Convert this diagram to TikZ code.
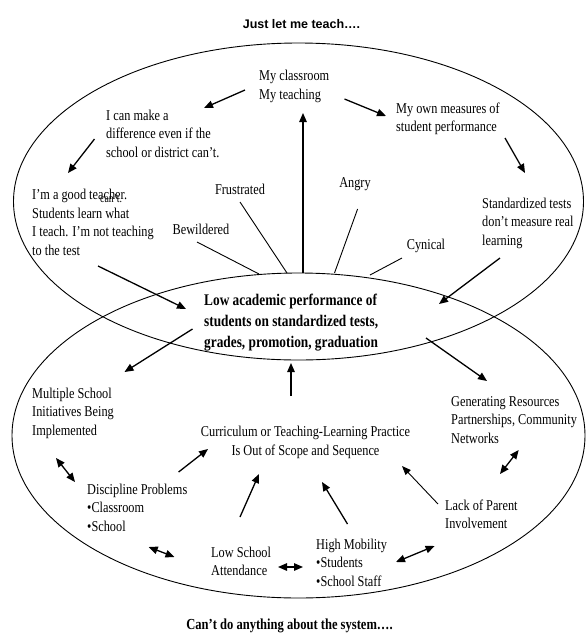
\documentclass[tikz,border=0pt]{standalone}
\usepackage{fontspec}
\setmainfont{Liberation Serif}[FakeStretch=0.82]
\newfontfamily\titlefont{Liberation Sans}
\usetikzlibrary{arrows.meta}
\tikzset{
  oval/.style={line width=0.9pt},
  feel/.style={line width=0.9pt},
  arr/.style={line width=1.3pt,-{Triangle[length=9pt,width=7.5pt]}},
  tarr/.style={line width=0.9pt,-{Triangle[length=9pt,width=7pt]}},
  darr/.style={line width=1.3pt,{Triangle[length=9pt,width=7.5pt]}-{Triangle[length=9pt,width=7.5pt]}},
  txt/.style={inner sep=0pt,anchor=north west,align=left,font=\fontsize{15}{18.6}\selectfont},
  ctxt/.style={inner sep=0pt,anchor=north,align=center,font=\fontsize{15}{18.6}\selectfont},
  btxt/.style={inner sep=0pt,anchor=north west,align=left,font=\fontsize{16.25}{20.7}\selectfont\bfseries},
  head/.style={inner sep=0pt,anchor=base}
}
\begin{document}
\begin{tikzpicture}[x=1pt,y=-1pt]
\useasboundingbox (0,0) rectangle (586,633);
% ellipses
\draw[oval] (298.5,201.5) ellipse [x radius=285pt, y radius=158.5pt];
\draw[oval] (298.5,435.5) ellipse [x radius=286.5pt, y radius=162.5pt];
% titles
\node[head,font=\titlefont\fontsize{12.5}{15}\selectfont\bfseries] (title) at (301.5,28.3) {Just let me teach\ldots.};
\node[head,font=\fontsize{15.3}{17}\selectfont\bfseries] (bottom) at (289.5,629) {Can’t do anything about the system\ldots.};
% upper texts
\node[txt] (classroom) at (259,67.5) {\strut My classroom\\My teaching};
\node[txt] (canmake) at (106,107) {\strut I can make a\\difference even if the\\school or district can’t.};
\node[txt] (good) at (32,186.3) {\strut I’m a good teacher.\\Students learn what\\I teach. I’m not teaching\\to the test};
\node[inner sep=0pt,anchor=base west,font=\fontsize{12}{13}\selectfont] (cantover) at (100,202) {can’t.};
\node[txt] (own) at (396,100) {\strut My own measures of\\student performance};
\node[txt] (std) at (482,195) {\strut Standardized tests\\don’t measure real\\learning};
\node[ctxt] (frus) at (240,181) {\strut Frustrated};
\node[ctxt] (angry) at (355,174) {\strut Angry};
\node[ctxt] (bew) at (201,221) {\strut Bewildered};
\node[ctxt] (cyn) at (426,236) {\strut Cynical};
% centre
\node[btxt] (low) at (204,291.2) {\strut Low academic performance of\\students on standardized tests,\\grades, promotion, graduation};
% lower texts
\node[txt] (multi) at (32,385) {\strut Multiple School\\Initiatives Being\\Implemented};
\node[txt] (gen) at (451,393) {\strut Generating Resources\\Partnerships, Community\\Networks};
\node[ctxt] (curr) at (305.5,423.7) {\strut Curriculum or Teaching-Learning Practice\\Is Out of Scope and Sequence};
\node[txt] (disc) at (87,481) {\strut Discipline Problems\\•Classroom\\•School};
\node[txt] (lack) at (445,497) {\strut Lack of Parent\\Involvement};
\node[txt] (lowatt) at (211,544) {\strut Low School\\Attendance};
\node[txt] (mob) at (316,536) {\strut High Mobility\\•Students\\•School Staff};
% connector end points
\coordinate (c1a) at (245,90);   \coordinate (c1b) at (204,108);
\coordinate (c2a) at (94.5,139); \coordinate (c2b) at (68,173);
\coordinate (c3a) at (98,266);   \coordinate (c3b) at (186,309);
\coordinate (c4a) at (303,273);  \coordinate (c4b) at (303,113);
\coordinate (c5a) at (344.5,99); \coordinate (c5b) at (386,116);
\coordinate (c6a) at (505,138);  \coordinate (c6b) at (525,173);
\coordinate (c7a) at (500,258);  \coordinate (c7b) at (439,304);
\coordinate (f1a) at (240,202);  \coordinate (f1b) at (287,273);
\coordinate (f2a) at (357.6,209);\coordinate (f2b) at (334.5,273);
\coordinate (f3a) at (197,242);  \coordinate (f3b) at (259,274);
\coordinate (f4a) at (402,258);  \coordinate (f4b) at (370,275);
\coordinate (c8a) at (192.5,329);\coordinate (c8b) at (124.5,372);
\coordinate (c9a) at (291,396);  \coordinate (c9b) at (291,363);
\coordinate (c10a) at (426,338); \coordinate (c10b) at (487,381);
\coordinate (c11a) at (178.6,472);\coordinate (c11b) at (208,449);
\coordinate (c12a) at (240,517); \coordinate (c12b) at (259,474);
\coordinate (c13a) at (347.5,524);\coordinate (c13b) at (322,482);
\coordinate (c14a) at (438,504); \coordinate (c14b) at (402,466);
\coordinate (d1a) at (56,458);   \coordinate (d1b) at (75,482);
\coordinate (d2a) at (500,474);  \coordinate (d2b) at (518.7,450);
\coordinate (d3a) at (148.7,547);\coordinate (d3b) at (174.5,557);
\coordinate (d4a) at (278,567);  \coordinate (d4b) at (303,567);
\coordinate (d5a) at (396,562);  \coordinate (d5b) at (434.6,546);
% upper connectors
\draw[arr] (c1a) -- (c1b);
\draw[arr] (c2a) -- (c2b);
\draw[arr] (c3a) -- (c3b);
\draw[arr] (c4a) -- (c4b);
\draw[arr] (c5a) -- (c5b);
\draw[arr] (c6a) -- (c6b);
\draw[arr] (c7a) -- (c7b);
\draw[feel] (f1a) -- (f1b);
\draw[feel] (f2a) -- (f2b);
\draw[feel] (f3a) -- (f3b);
\draw[feel] (f4a) -- (f4b);
% lower connectors
\draw[arr] (c8a) -- (c8b);
\draw[arr] (c9a) -- (c9b);
\draw[arr] (c10a) -- (c10b);
\draw[arr] (c11a) -- (c11b);
\draw[arr] (c12a) -- (c12b);
\draw[arr] (c13a) -- (c13b);
\draw[tarr] (c14a) -- (c14b);
\draw[darr] (d1a) -- (d1b);
\draw[darr] (d2a) -- (d2b);
\draw[darr] (d3a) -- (d3b);
\draw[darr] (d4a) -- (d4b);
\draw[darr] (d5a) -- (d5b);
\end{tikzpicture}
\end{document}
